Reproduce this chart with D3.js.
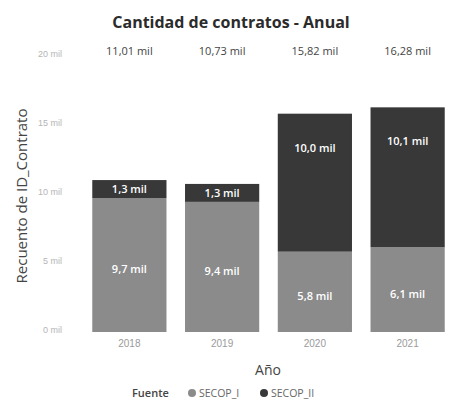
<!DOCTYPE html>
<html>
<head>
<meta charset="utf-8">
<script src="https://cdn.jsdelivr.net/npm/d3@7"></script>
<style>
  body { margin: 0; background: #fff; }
  svg { font-family: "Open Sans", "DejaVu Sans", sans-serif; }
</style>
</head>
<body>
<div class="chart"></div>
<script>
// datos (miles de contratos)
let years = ["2018", "2019", "2020", "2021"];
let secopI = [9.71, 9.43, 5.82, 6.14];
let secopII = [1.30, 1.30, 10.00, 10.14];
let totalLabels = ["11,01 mil", "10,73 mil", "15,82 mil", "16,28 mil"];
let yTicks = [0, 5, 10, 15, 20];
let fuentes = ["SECOP_I", "SECOP_II"];

let width = 458, height = 413;
let colors = { "SECOP_I": "#8b8b8b", "SECOP_II": "#383838" };

let data = years.map(function(y, i) {
  return { year: y, "SECOP_I": secopI[i], "SECOP_II": secopII[i] };
});

let svg = d3.select(".chart").append("svg")
    .attr("width", width)
    .attr("height", height);

let x = d3.scaleBand()
    .domain(years)
    .range([83, 454])
    .paddingInner(0.2)
    .paddingOuter(0.1);

let y = d3.scaleLinear()
    .domain([0, 20])
    .range([332, 56]);

let stack = d3.stack().keys(fuentes);
let layers = stack(data);

// title
svg.append("text")
    .attr("x", 231)
    .attr("y", 28)
    .attr("text-anchor", "middle")
    .attr("font-size", 16)
    .attr("font-weight", "bold")
    .attr("fill", "#2b2b2b")
    .text("Cantidad de contratos - Anual");

// y axis
let yAxis = d3.axisLeft(y)
    .tickValues(yTicks)
    .tickSize(0)
    .tickPadding(6)
    .tickFormat(function(d) { return d + " mil"; });

let gy = svg.append("g")
    .attr("transform", "translate(68,0)")
    .call(yAxis);
gy.select(".domain").remove();
gy.selectAll("text")
    .attr("font-size", 9)
    .attr("fill", "#b5b5b5")
    .attr("dy", "0.1em");

svg.append("text")
    .attr("transform", "translate(27," + (y(10) + 2) + ") rotate(-90)")
    .attr("text-anchor", "middle")
    .attr("font-size", 15)
    .attr("fill", "#444")
    .text("Recuento de ID_Contrato");

// bars
let groups = svg.selectAll(".layer")
  .data(layers)
  .enter().append("g")
    .attr("class", "layer")
    .attr("fill", function(d) { return colors[d.key]; });

groups.selectAll("rect")
  .data(function(d) { return d; })
  .enter().append("rect")
    .attr("x", function(d) { return x(d.data.year); })
    .attr("y", function(d) { return y(d[1]); })
    .attr("height", function(d) { return y(d[0]) - y(d[1]); })
    .attr("width", x.bandwidth());

// segment labels
layers.forEach(function(layer) {
  svg.selectAll(".lbl-" + layer.key)
    .data(layer)
    .enter().append("text")
      .attr("x", function(d) { return x(d.data.year) + x.bandwidth() / 2; })
      .attr("y", function(d) {
        let h = y(d[0]) - y(d[1]);
        if (h < 40) return (y(d[0]) + y(d[1])) / 2 + 4;
        return layer.key == "SECOP_I" ? (y(d[0]) + y(d[1])) / 2 + 8 : y(d[1]) + 38;
      })
      .attr("text-anchor", "middle")
      .attr("font-size", 11)
      .attr("font-weight", "600")
      .attr("fill", "#ffffff")
      .text(function(d) { return (d[1] - d[0]).toFixed(1).replace(".", ",") + " mil"; });
});

// totals
svg.selectAll(".total")
  .data(years)
  .enter().append("text")
    .attr("x", function(d) { return x(d) + x.bandwidth() / 2; })
    .attr("y", y(20) - 1)
    .attr("text-anchor", "middle")
    .attr("font-size", 11)
    .attr("fill", "#444")
    .text(function(d, i) { return totalLabels[i]; });

// x axis
let xAxis = d3.axisBottom(x).tickSize(0).tickPadding(8);
let gx = svg.append("g")
    .attr("transform", "translate(0," + y(0) + ")")
    .call(xAxis);
gx.select(".domain").remove();
gx.selectAll("text")
    .attr("font-size", 10)
    .attr("fill", "#9a9a9a");

svg.append("text")
    .attr("x", 268)
    .attr("y", 375)
    .attr("text-anchor", "middle")
    .attr("font-size", 14)
    .attr("fill", "#444")
    .text("Año");

// legend
let legend = svg.append("g").attr("transform", "translate(132,397)");
legend.append("text")
    .attr("font-size", 11)
    .attr("font-weight", "600")
    .attr("fill", "#444")
    .text("Fuente");

let lx = [60, 132];
fuentes.forEach(function(f, i) {
  legend.append("circle")
      .attr("cx", lx[i])
      .attr("cy", -4)
      .attr("r", 4)
      .attr("fill", colors[f]);
  legend.append("text")
      .attr("x", lx[i] + 7)
      .attr("font-size", 10.5)
      .attr("fill", "#666")
      .text(f);
});
</script>
</body>
</html>
